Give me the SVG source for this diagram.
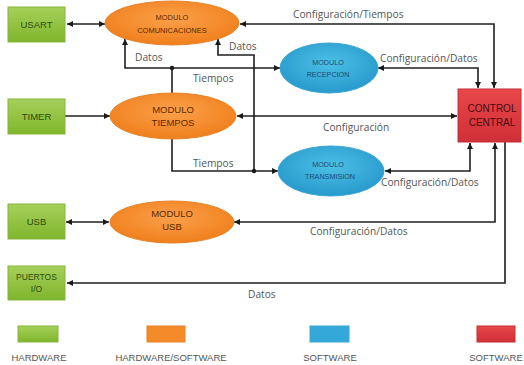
<svg xmlns="http://www.w3.org/2000/svg" width="524" height="365" viewBox="0 0 524 365">
<defs>
<linearGradient id="gG" x1="0" y1="0" x2="0" y2="1"><stop offset="0" stop-color="#a6d05a"/><stop offset="1" stop-color="#7fb52c"/></linearGradient>
<radialGradient id="gO" cx="0.5" cy="0.4" r="0.6"><stop offset="0" stop-color="#fba04a"/><stop offset="1" stop-color="#f07f1c"/></radialGradient>
<radialGradient id="gB" cx="0.5" cy="0.4" r="0.6"><stop offset="0" stop-color="#4cc0e6"/><stop offset="1" stop-color="#2799cc"/></radialGradient>
<linearGradient id="gR" x1="0" y1="0" x2="0" y2="1"><stop offset="0" stop-color="#e8484a"/><stop offset="1" stop-color="#cf2f36"/></linearGradient>
<marker id="ah" viewBox="0 0 6 6" refX="6" refY="3" markerWidth="6" markerHeight="6" markerUnits="userSpaceOnUse" orient="auto-start-reverse"><path d="M0,0 L6,3 L0,6 z" fill="#1a1a1a"/></marker>
</defs>
<style>
.hw{fill:url(#gG);stroke:#86b53a;stroke-width:1}
.hs{fill:url(#gO);stroke:#e6822a;stroke-width:1}
.sw{fill:url(#gB);stroke:#3aa6d3;stroke-width:1}
.cc{fill:url(#gR);stroke:#c43036;stroke-width:1}
.c{fill:none;stroke:#1f1f1f;stroke-width:1.6}
.ht{font-family:"Liberation Sans",Arial,sans-serif;font-size:9.5px;fill:#2d4a0a;text-anchor:middle}
.ot{font-family:"Liberation Sans",Arial,sans-serif;font-size:9.5px;fill:#5a2800;text-anchor:middle}
.bt{font-family:"Liberation Sans",Arial,sans-serif;font-size:7.2px;fill:#1b4a78;text-anchor:middle}
.rt{font-family:"Liberation Sans",Arial,sans-serif;font-size:10px;fill:#4a0a0e;text-anchor:middle}
.lb{font-family:"Open Sans","Liberation Sans",sans-serif;font-size:10.2px;fill:#555}
.lg{font-family:"Liberation Sans",Arial,sans-serif;font-size:9.5px;fill:#555;text-anchor:middle}
</style>
<g id="connectors">
<path class="c" d="M67,24 H105" marker-start="url(#ah)" marker-end="url(#ah)"/>
<path class="c" d="M65,116 H110" marker-end="url(#ah)"/>
<path class="c" d="M66,222 H109" marker-start="url(#ah)" marker-end="url(#ah)"/>
<path class="c" d="M505,142 V283 H67" marker-end="url(#ah)"/>
<path class="c" d="M240,24 H494 V88" marker-start="url(#ah)" marker-end="url(#ah)"/>
<path class="c" d="M378,68 H478 V88" marker-start="url(#ah)" marker-end="url(#ah)"/>
<path class="c" d="M237,116 H457" marker-start="url(#ah)" marker-end="url(#ah)"/>
<path class="c" d="M385,171 H470 V143" marker-start="url(#ah)" marker-end="url(#ah)"/>
<path class="c" d="M234,222 H495 V143" marker-start="url(#ah)" marker-end="url(#ah)"/>
<path class="c" d="M125,39 V68 H280" marker-start="url(#ah)" marker-end="url(#ah)"/>
<path class="c" d="M172,93 V68"/>
<path class="c" d="M218,39 V55 H254 V171"/>
<path class="c" d="M218,39 V45" marker-start="url(#ah)"/>
<path class="c" d="M172,139 V171 H278" marker-end="url(#ah)"/>
<circle cx="172" cy="68" r="2.2" fill="#1a1a1a"/>
<circle cx="254" cy="171" r="2.2" fill="#1a1a1a"/>
<text class="lb" x="293" y="18">Configuración/Tiempos</text>
<text class="lb" x="380" y="62">Configuración/Datos</text>
<text class="lb" x="323" y="131">Configuración</text>
<text class="lb" x="381" y="186">Configuración/Datos</text>
<text class="lb" x="310" y="235">Configuración/Datos</text>
<text class="lb" x="248" y="298">Datos</text>
<text class="lb" x="135" y="61">Datos</text>
<text class="lb" x="229" y="50">Datos</text>
<text class="lb" x="193" y="82">Tiempos</text>
<text class="lb" x="193" y="167">Tiempos</text>
</g>
<g id="usart"><rect class="hw" x="8" y="7" width="57" height="35"/><text class="ht" x="36.5" y="28">USART</text></g>
<g id="timer"><rect class="hw" x="8" y="99" width="57" height="35"/><text class="ht" x="36.5" y="120">TIMER</text></g>
<g id="usb"><rect class="hw" x="8" y="204" width="57" height="35"/><text class="ht" x="36.5" y="225">USB</text></g>
<g id="puertos"><rect class="hw" x="8" y="266" width="57" height="34"/><text class="ht" x="36.5" y="280" style="font-size:8.5px">PUERTOS</text><text class="ht" x="36.5" y="292" style="font-size:8.5px">I/O</text></g>
<g id="mod-com"><ellipse class="hs" cx="172" cy="23" rx="67" ry="22"/><text class="ot" x="172" y="20" style="font-size:7.5px">MODULO</text><text class="ot" x="172" y="33" style="font-size:7.5px">COMUNICACIONES</text></g>
<g id="mod-tiempos"><ellipse class="hs" cx="173" cy="116" rx="63" ry="23"/><text class="ot" x="173" y="112.5">MODULO</text><text class="ot" x="173" y="125.5">TIEMPOS</text></g>
<g id="mod-usb"><ellipse class="hs" cx="172" cy="222" rx="62" ry="21"/><text class="ot" x="172" y="217">MODULO</text><text class="ot" x="172" y="230">USB</text></g>
<g id="mod-recepcion"><ellipse class="sw" cx="329" cy="68" rx="49" ry="25"/><text class="bt" x="328" y="65">MODULO</text><text class="bt" x="328" y="77">RECEPCION</text></g>
<g id="mod-transmision"><ellipse class="sw" cx="331" cy="171" rx="53" ry="25"/><text class="bt" x="328" y="167">MODULO</text><text class="bt" x="330" y="179">TRANSMISION</text></g>
<g id="control"><rect class="cc" x="458" y="89" width="63" height="53"/><text class="rt" x="492" y="112">CONTROL</text><text class="rt" x="492" y="126">CENTRAL</text></g>
<g id="legend">
<rect class="hw" x="18" y="326" width="40" height="16"/>
<rect class="hs" x="147" y="326" width="38" height="16" style="fill:#f58a2a"/>
<rect class="sw" x="310" y="326" width="39" height="16" style="fill:#34a8d8"/>
<rect class="cc" x="477" y="326" width="38" height="16"/>
<text class="lg" x="39" y="361">HARDWARE</text>
<text class="lg" x="171" y="361">HARDWARE/SOFTWARE</text>
<text class="lg" x="330" y="361">SOFTWARE</text>
<text class="lg" x="496" y="361">SOFTWARE</text>
</g>
</svg>
